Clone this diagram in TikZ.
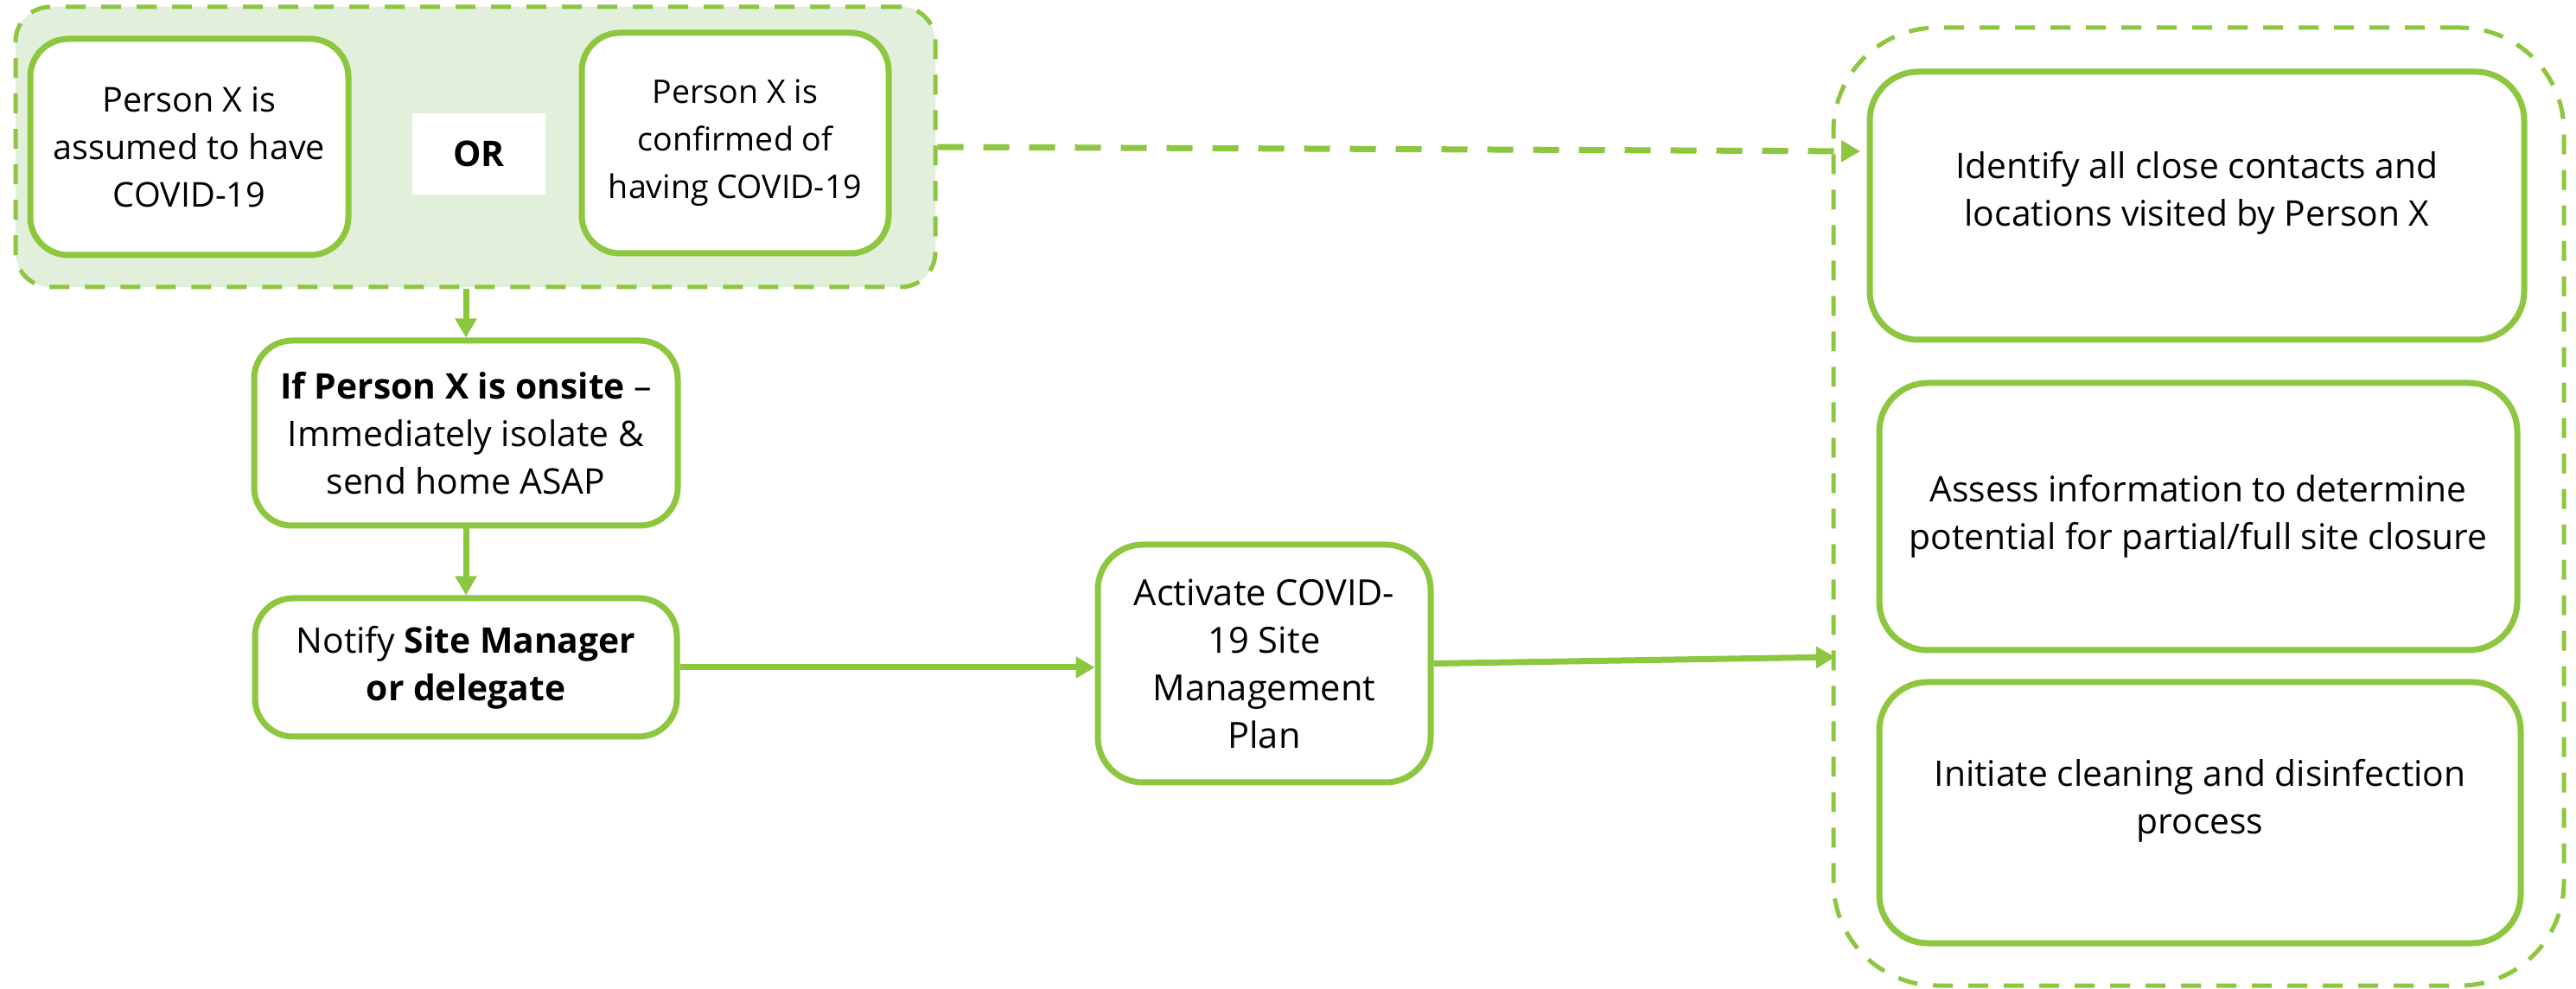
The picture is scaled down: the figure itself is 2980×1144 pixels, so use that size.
\documentclass[tikz,border=0pt]{standalone}
\usepackage{fontspec}
\setmainfont{Open Sans}
\usetikzlibrary{arrows.meta}
\definecolor{gr}{RGB}{141,198,63}
\definecolor{lgr}{RGB}{226,239,218}
\begin{document}
\begin{tikzpicture}[x=0.25pt,y=-0.25pt,
  txt/.style={font=\fontsize{10.2pt}{13.75pt}\selectfont, align=center},
  box/.style={txt, draw=gr, line width=1.75pt, rounded corners=11pt, fill=white, inner sep=0pt},
  grpbox/.style={draw=gr, line width=1.25pt, dash pattern=on 5.75pt off 4.5pt, inner sep=0pt},
  arr/.style={draw=gr, line width=1.75pt, -{Triangle[length=5.5pt,width=6pt]}},
  darr/.style={arr, dash pattern=on 7.5pt off 5.75pt}
]
\useasboundingbox[fill=white] (0,0) rectangle (2980,1144);

% left group
\node[grpbox, fill=lgr, rounded corners=10pt, minimum width=266pt, minimum height=81pt] (grp) at (550,170) {};
\node[box, font=\fontsize{9.9pt}{13.75pt}\selectfont, minimum width=92pt, minimum height=62.5pt] (A) at (219,170) {Person X is\\assumed to have\\COVID-19};
\node[txt, fill=white, minimum width=38.5pt, minimum height=23.5pt, inner sep=0pt] (or) at (554,178) {\textbf{OR}};
\node[box, font=\fontsize{9.4pt}{13.75pt}\selectfont, minimum width=88.75pt, minimum height=63.75pt] (B) at (850.5,165.5) {Person X is\\confirmed of\\having COVID-19};

% left column
\node[box, minimum width=122.5pt, minimum height=53.5pt] (C) at (539,501) {\textbf{If Person X is onsite} –\\Immediately isolate \&\\send home ASAP};
\node[box, minimum width=122pt, minimum height=40pt] (D) at (539,772) {Notify \textbf{Site Manager}\\\textbf{or delegate}};
\node[box, font=\fontsize{10.4pt}{13.75pt}\selectfont, rounded corners=13pt, minimum width=96.25pt, minimum height=68.75pt] (E) at (1462.5,767.5) {Activate COVID-\\19 Site\\Management\\Plan};

% right group
\node[grpbox, rounded corners=30pt, minimum width=211.25pt, minimum height=277pt] (R) at (2543.5,586) {};
\node[box, rounded corners=14pt, minimum width=189.25pt, minimum height=77.5pt] (F) at (2541.5,238) {};
\node[txt] (Ft) at ([yshift=3.75pt]F.center) {Identify all close contacts and\\locations visited by Person X};
\node[box, rounded corners=14pt, minimum width=184.5pt, minimum height=77.25pt] (G) at (2543,597.5) {Assess information to determine\\potential for partial/full site closure};
\node[box, rounded corners=14pt, minimum width=185.5pt, minimum height=75.5pt] (H) at (2545,940) {};
\node[txt] (Ht) at ([yshift=3.4pt]H.center) {Initiate cleaning and disinfection\\process};

\coordinate (rin) at (2123,760);
\coordinate (rin2) at (2152,175);

% connectors
\draw[arr] (C.north |- grp.south) -- (C.north);
\draw[arr] (C.south) -- (D.north);
\draw[arr] (D.east) -- (D.east -| E.west);
\draw[arr] (E.east) -- (rin);
\draw[darr] (grp.east) -- (rin2);
\end{tikzpicture}
\end{document}
